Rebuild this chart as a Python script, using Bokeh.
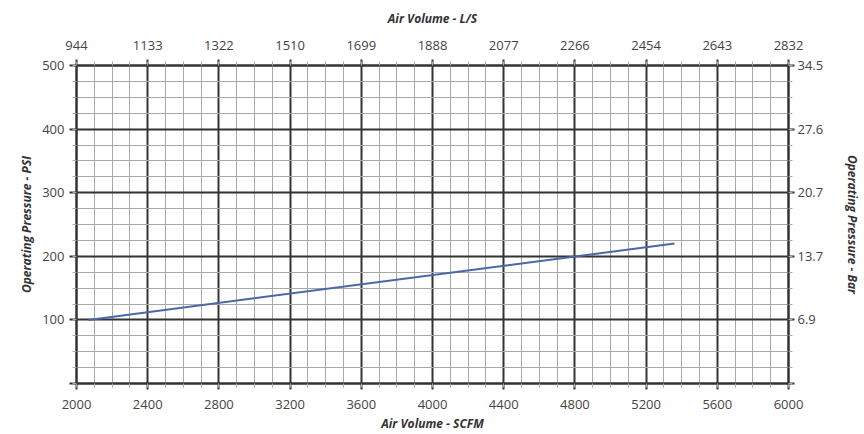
from bokeh.plotting import figure
from bokeh.models import LinearAxis, FixedTicker, Range1d
from bokeh.embed import file_html
from bokeh.resources import INLINE

# ---- data ----
scfm_ticks = [2000, 2400, 2800, 3200, 3600, 4000, 4400, 4800, 5200, 5600, 6000]
ls_labels = ["944", "1133", "1322", "1510", "1699", "1888", "2077", "2266", "2454", "2643", "2832"]
psi_ticks = [0, 100, 200, 300, 400, 500]
bar_labels = ["", "6.9", "13.7", "20.7", "27.6", "34.5"]
psi_labels = ["", "100", "200", "300", "400", "500"]

line_scfm = [2067, 5360]
line_psi = [100, 220]

x_minor = list(range(2000, 6001, 100))
y_minor = list(range(0, 501, 25))

FONT = "Open Sans"
MAJOR = "#333333"
MINOR = "#a8a8a8"
LABEL = "#444444"
TITLE = "#333333"

p = figure(width=864, height=434, output_backend="svg", toolbar_location=None,
           x_range=Range1d(2000, 6000), y_range=Range1d(0, 500),
           x_axis_location=None, y_axis_location=None,
           min_border_left=76, min_border_right=67, min_border_top=65, min_border_bottom=51)
p.outline_line_color = MAJOR
p.outline_line_width = 2
p.background_fill_color = "white"
p.border_fill_color = "white"

xt = FixedTicker(ticks=scfm_ticks, minor_ticks=x_minor)
yt = FixedTicker(ticks=psi_ticks, minor_ticks=y_minor)


def mk(label, ticks, minor, overrides, loc, tick_out, lab_std, title_std):
    ax = LinearAxis(ticker=FixedTicker(ticks=ticks, minor_ticks=minor),
                    axis_label=label,
                    major_label_overrides=overrides)
    ax.axis_line_color = MAJOR
    ax.axis_line_width = 2
    ax.major_tick_line_color = MAJOR
    ax.major_tick_line_width = 2
    ax.major_tick_out = tick_out
    ax.major_tick_in = 0
    ax.minor_tick_line_color = MINOR
    ax.minor_tick_out = 4
    ax.minor_tick_in = 0
    ax.major_label_text_font = FONT
    ax.major_label_text_font_size = "13px"
    ax.major_label_text_color = LABEL
    ax.major_label_standoff = lab_std
    ax.axis_label_text_font = FONT
    ax.axis_label_text_font_size = "12px"
    ax.axis_label_text_font_style = "bold italic"
    ax.axis_label_text_color = TITLE
    ax.axis_label_standoff = title_std
    p.add_layout(ax, loc)
    return ax


mk("Air Volume - SCFM", scfm_ticks, x_minor, {}, "below", 6, 10, 3)
mk("Air Volume - L/S", scfm_ticks, x_minor,
   {t: l for t, l in zip(scfm_ticks, ls_labels)}, "above", 6, 10, 11)
mk("Operating Pressure - PSI", psi_ticks, y_minor,
   {t: l for t, l in zip(psi_ticks, psi_labels)}, "left", 7, 5, 4)
mk("Operating Pressure - Bar", psi_ticks, y_minor,
   {t: l for t, l in zip(psi_ticks, bar_labels)}, "right", 6, 3, 18)

p.xgrid.ticker = xt
p.ygrid.ticker = yt
for g in (p.xgrid, p.ygrid):
    g.grid_line_color = MAJOR
    g.grid_line_width = 2
    g.minor_grid_line_color = MINOR
    g.minor_grid_line_width = 1

p.line(line_scfm, line_psi, line_color="#4a68a8", line_width=2)

open("out.html", "w").write(file_html(p, INLINE))
